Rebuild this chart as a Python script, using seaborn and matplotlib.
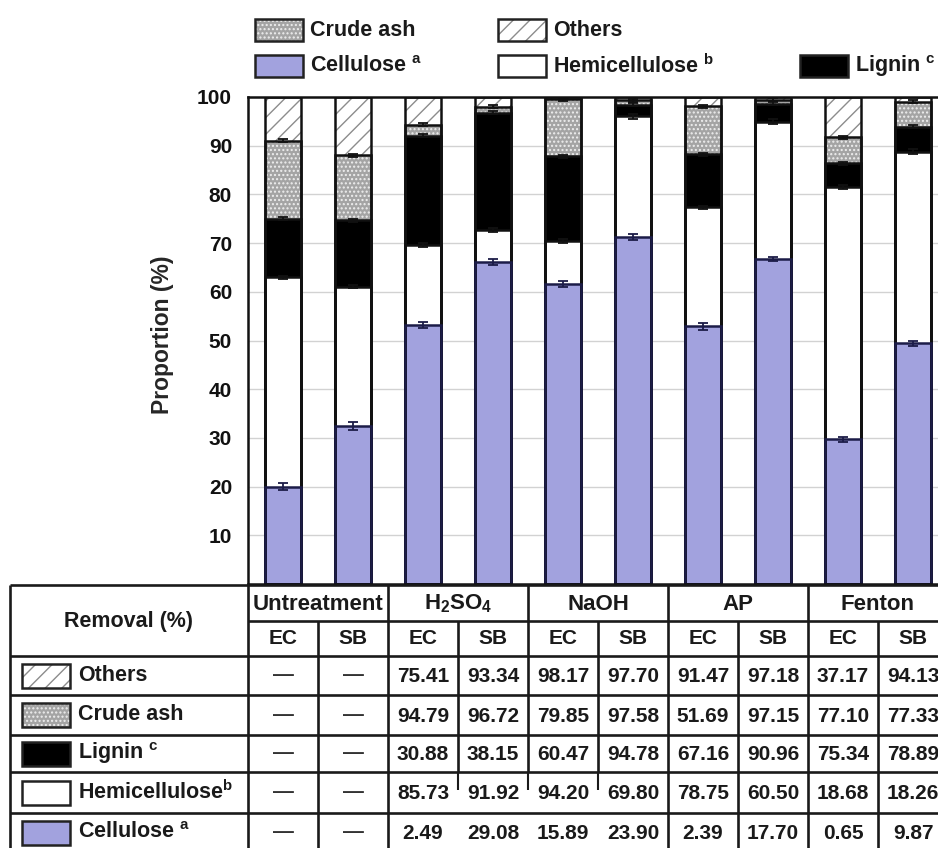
import numpy as np
import pandas as pd
import matplotlib
matplotlib.use("Agg")
import matplotlib.pyplot as plt
from matplotlib.patches import Rectangle
import seaborn as sns

# ---- data -------------------------------------------------------------
group_names = ["Untreatment", "H2SO4", "NaOH", "AP", "Fenton"]
group_labels = ["Untreatment", r"H$_2$SO$_4$", "NaOH", "AP", "Fenton"]
samples = ["EC", "SB"]
bar_ids = [f"{g} {s}" for g in group_names for s in samples]

# composition (%) of each sample, bottom to top
cellulose = [20.0, 32.4, 53.1, 66.1, 61.6, 71.2, 52.9, 66.8, 29.7, 49.4]
hemicellulose = [43.0, 28.6, 16.6, 6.5, 8.8, 24.8, 24.5, 28.1, 51.9, 39.4]
lignin = [12.0, 13.7, 22.3, 24.2, 17.4, 2.4, 10.8, 3.7, 4.8, 5.1]
crude_ash = [16.0, 13.3, 2.3, 1.2, 11.7, 0.9, 9.9, 0.8, 5.3, 5.1]
others = [9.0, 12.0, 5.7, 2.0, 0.5, 0.7, 1.9, 0.6, 8.3, 1.0]

# standard deviations at the top of each stacked segment
cellulose_err = [0.8, 0.8, 0.6, 0.6, 0.6, 0.6, 0.7, 0.4, 0.5, 0.5]
hemicellulose_err = [0.3, 0.3, 0.4, 0.4, 0.4, 0.6, 0.3, 0.5, 0.4, 0.5]
lignin_err = [0.3, 0.3, 0.3, 0.3, 0.3, 0.3, 0.3, 0.3, 0.3, 0.3]
crude_ash_err = [0.3, 0.3, 0.3, 0.3, 0.3, 0.3, 0.3, 0.3, 0.3, 0.3]

# removal rates (%) after pretreatment; None = not applicable
removal_others = [None, None, 75.41, 93.34, 98.17, 97.70, 91.47, 97.18, 37.17, 94.13]
removal_crude_ash = [None, None, 94.79, 96.72, 79.85, 97.58, 51.69, 97.15, 77.10, 77.33]
removal_lignin = [None, None, 30.88, 38.15, 60.47, 94.78, 67.16, 90.96, 75.34, 78.89]
removal_hemicellulose = [None, None, 85.73, 91.92, 94.20, 69.80, 78.75, 60.50, 18.68, 18.26]
removal_cellulose = [None, None, 2.49, 29.08, 15.89, 23.90, 2.39, 17.70, 0.65, 9.87]

# ---- style ------------------------------------------------------------
sns.set_style("white")
plt.rcParams["font.family"] = ["Liberation Sans", "DejaVu Sans"]
plt.rcParams["font.weight"] = "bold"
plt.rcParams["mathtext.fontset"] = "custom"
plt.rcParams["mathtext.rm"] = "Liberation Sans:bold"
plt.rcParams["mathtext.bf"] = "Liberation Sans:bold"
plt.rcParams["mathtext.it"] = "Liberation Sans:bold"
plt.rcParams["mathtext.default"] = "bf"
plt.rcParams["hatch.linewidth"] = 1.0

CELL_BLUE = "#a2a2de"
layer_style = {
    # name: (face, hatch, hatch colour, outline colour)
    "Cellulose": (CELL_BLUE, None, CELL_BLUE, "#1c1c48"),
    "Hemicellulose": ("white", None, "white", "#111111"),
    "Lignin": ("black", None, "black", "#111111"),
    "Crude ash": ("#a4a4a4", "....", "#eeeeee", "#111111"),
    "Others": ("white", "//", "#8c8c8c", "#111111"),
}

layers = [("Cellulose", cellulose), ("Hemicellulose", hemicellulose),
          ("Lignin", lignin), ("Crude ash", crude_ash), ("Others", others)]
tops = np.cumsum(np.array([v for _, v in layers]), axis=0)
df = pd.DataFrame({"bar": bar_ids})
for i, (name, _) in enumerate(layers):
    df[name] = tops[i]

W, H, DPI = 938, 848, 100
fig = plt.figure(figsize=(W / DPI, H / DPI), dpi=DPI)
fig.patch.set_facecolor("white")

# plot area in pixel terms: left 248, right 948, top 97, bottom 584
ax = fig.add_axes([248 / W, (H - 584) / H, 700 / W, 487 / H])
ax.set_axisbelow(True)
ax.yaxis.grid(True, color="#d2d2d2", lw=1.0)

BW = 0.52
# filled segments, drawn from the cumulative top downwards
for name, _ in reversed(layers):
    face, hatch, hcol, _edge = layer_style[name]
    sns.barplot(data=df, x="bar", y=name, order=bar_ids, color=face,
                saturation=1, hatch=hatch, edgecolor=hcol, linewidth=0,
                width=BW, errorbar=None, ax=ax)
# segment outlines
for name, _ in reversed(layers):
    edge = layer_style[name][3]
    sns.barplot(data=df, x="bar", y=name, order=bar_ids, fill=False,
                color=edge, linewidth=1.8, width=BW, errorbar=None, ax=ax)

# error bars at segment tops
xpos = np.arange(len(bar_ids))
for k, err in enumerate([cellulose_err, hemicellulose_err, lignin_err, crude_ash_err]):
    ecol = "#1c1c48" if k == 0 else "#111111"
    ax.errorbar(xpos, tops[k], yerr=err, fmt="none", ecolor=ecol,
                elinewidth=1.3, capsize=3.8, capthick=1.3, zorder=4)

ax.set_xlim(-0.5, 9.5)
ax.set_ylim(0, 100)
ax.set_yticks(np.arange(10, 101, 10))
ax.set_yticklabels([str(v) for v in range(10, 101, 10)], fontsize=15, fontweight="bold")
ax.set_xticks([])
ax.set_xlabel("")
ax.set_ylabel("Proportion (%)", fontsize=16.5, fontweight="bold")
ax.yaxis.set_label_coords(-0.106, 0.511)
ax.tick_params(axis="y", direction="out", length=7.5, width=1.5, pad=4, colors="#111111")
for s in ax.spines.values():
    s.set_visible(True)
    s.set_linewidth(1.8)
    s.set_color("#111111")

# ---- overlay in pixel coordinates for legend and table -----------------
ov = fig.add_axes([0, 0, 1, 1], zorder=5)
ov.set_xlim(0, W)
ov.set_ylim(H, 0)
ov.axis("off")
ov.patch.set_alpha(0)


def swatch(x, y, w, h, name):
    face, hatch, hcol, edge = layer_style[name]
    ov.add_patch(Rectangle((x, y), w, h, facecolor=face, hatch=hatch,
                           edgecolor=hcol, linewidth=0))
    ov.add_patch(Rectangle((x, y), w, h, fill=False, edgecolor="#222222",
                           linewidth=1.8))


legend_items = [
    (255, 19, "Crude ash", "Crude ash"),
    (498, 19, "Others", "Others"),
    (255, 55, "Cellulose", r"Cellulose $^{a}$"),
    (498, 55, "Hemicellulose", r"Hemicellulose $^{b}$"),
    (800, 55, "Lignin", r"Lignin $^{c}$"),
]
for x, y, name, label in legend_items:
    swatch(x, y, 48, 22, name)
    ov.text(x + 55, y + 11, label, fontsize=15.5, fontweight="bold",
            ha="left", va="center", color="#1a1a1a")

# table grid
LW = 1.9
TC = "#1a1a1a"
row_y = [656, 695, 735, 772, 813, 852]
ov.hlines([585], 10, 948, color=TC, lw=LW)
ov.hlines([621], 248, 948, color=TC, lw=LW)
ov.hlines(row_y, 10, 948, color=TC, lw=LW)
ov.vlines([10, 248, 388, 668, 808], 585, 852, color=TC, lw=LW)
ov.vlines([318, 738, 878], 621, 852, color=TC, lw=LW)
ov.vlines([458, 598], 621, 772, color=TC, lw=LW)
ov.vlines([528], 585, 772, color=TC, lw=LW)
ov.vlines([458, 528, 598], 772, 790, color=TC, lw=1.5)

ov.text(129, 621, "Removal (%)", fontsize=15.5, fontweight="bold",
        ha="center", va="center", color=TC)
for g, lab in enumerate(group_labels):
    ov.text(318 + 140 * g, 604, lab, fontsize=16, fontweight="bold",
            ha="center", va="center", color=TC)
    for s, smp in enumerate(samples):
        ov.text(283 + 140 * g + 70 * s, 639, smp, fontsize=15,
                fontweight="bold", ha="center", va="center", color=TC)

table_rows = [
    ("Others", "Others", removal_others),
    ("Crude ash", "Crude ash", removal_crude_ash),
    ("Lignin", r"Lignin $^{c}$", removal_lignin),
    ("Hemicellulose", r"Hemicellulose$^{b}$", removal_hemicellulose),
    ("Cellulose", r"Cellulose $^{a}$", removal_cellulose),
]
for r, (name, label, vals) in enumerate(table_rows):
    yc = (row_y[r] + row_y[r + 1]) / 2
    swatch(22, yc - 12, 48, 24, name)
    ov.text(78, yc, label, fontsize=15.5, fontweight="bold",
            ha="left", va="center", color=TC)
    for c, v in enumerate(vals):
        xc = 283 + 70 * c
        if v is None:
            ov.text(xc, yc - 1, "\u2014", fontsize=15, ha="center",
                    va="center", color="#333333")
        else:
            ov.text(xc, yc + 1, f"{v:.2f}", fontsize=15, fontweight="bold",
                    ha="center", va="center", color=TC)

fig.savefig("out.png", dpi=DPI)
